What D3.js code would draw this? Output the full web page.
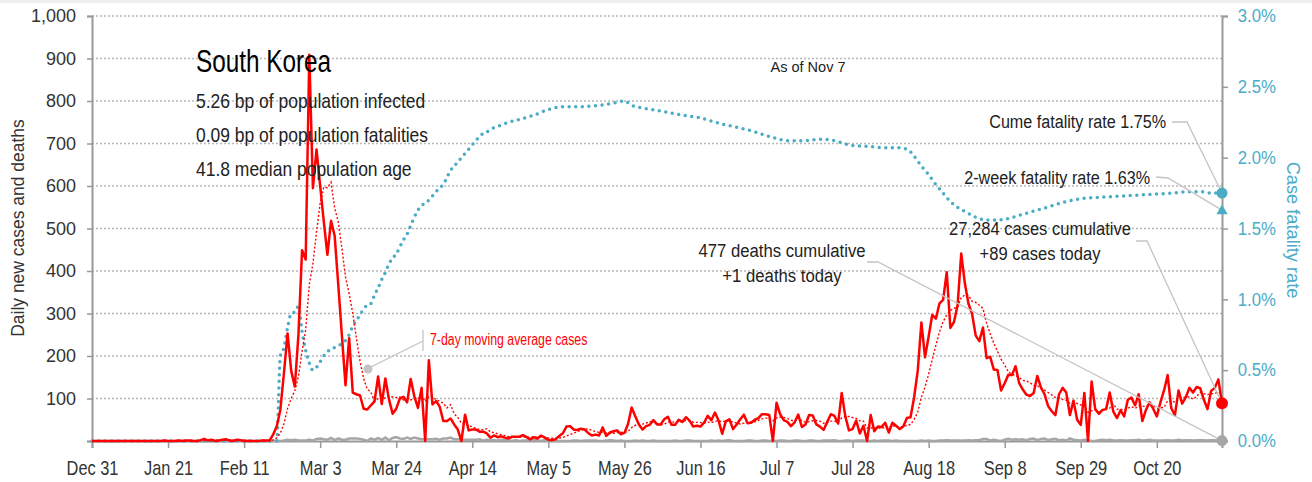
<!DOCTYPE html>
<html>
<head>
<meta charset="utf-8">
<title>South Korea</title>
<style>
  body { margin: 0; background: #fff; }
  svg text { font-family: "Liberation Sans Narrow", "Liberation Sans", Arial, sans-serif; }
</style>
</head>
<body>
<script src="https://d3js.org/d3.v7.min.js"></script>
<div id="chart"></div>
<script>

// daily new cases, one array per month (Dec 31 2019 .. Nov 7 2020)
var casesDec = [0];
var casesJan = [0,0,0,0,0,0,0,0,0,0,0,0,0,0,0,0,0,0,0, 1,0,0,0,1,0,1,1,0,0,2,5];
var casesFeb = [1,3,0,1,3,4,1,0,3,2,0,0,0,0,0,1,1,1,15,34,73,160,253,165,128,250,449,427,909];
var casesMar = [595,686,600,516,438,518,483,367,248,131,242,114,110,107,76,74,84,93,152,87,147,98,64,76,100,104,91,146,105,78,125];
var casesApr = [0,190,86,94,81,47,47,53,39,27,0,62,25,27,27,22,22,18,8,13,9,11,8,6,10,10,10,14,9,4];
var casesMay = [9,6,13,8,3,2,4,12,18,34,35,27,26,29,27,19,13,15,13,32,12,20,23,25,16,19,40,79,58,39,27];
var casesJun = [35,38,49,39,39,51,57,38,38,50,45,56,48,34,36,34,43,59,49,67,48,17,46,51,28,39,51,62,42,43];
var casesJul = [50,54,63,63,61,0,90,63,49,45,35,44,62,33,39,61,60,39,34,26,45,63,59,41,113,58,25,28,48,18,36];
var casesAug = [0,61,23,34,33,43,20,43,36,28,34,54,56,103,166,279,197,246,297,288,324,332,397,266,280,320,441,371,323,299,248];
var casesSep = [235,267,195,198,168,167,119,136,156,155,176,136,121,109,106,113,153,126,110,82,70,61,110,125,114,61,95,50,38,113];
var casesOct = [0,140,75,64,73,75,114,69,54,72,58,97,102,84,110,47,73,91,76,58,91,119,155,77,61,119,88,103,125,114,127];
var casesNov = [124,97,75,118,125,145,89];

// daily deaths (estimates, too small to read exactly)
var deathsDec = [0];
var deathsJan = [0,0,0,0,0,0,0,0,0,0,0,0,0,0,0,0,0,0,0,0,0,0,0,0,0,0,0,0,0,0,0];
var deathsFeb = [0,0,0,0,0,0,0,0,0,0,0,0,0,0,0,0,0,0,0,1,0,1,3,2,3,1,1,1,3];
var deathsMar = [1,5,6,4,3,7,2,6,3,3,6,6,6,5,3,0,6,3,7,3,8,2,7,9,6,5,8,5,8,6,4];
var deathsApr = [4,4,4,5,3,6,6,8,4,4,3,3,3,3,3,4,1,3,2,2,1,3,3,2,0,2,0,1,1,2];
var deathsMay = [2,2,0,2,0,1,0,0,0,0,0,1,1,0,1,1,1,1,0,0,1,2,1,0,1,0,0,0,1,0,1];
var deathsJun = [0,0,1,0,0,0,0,0,1,0,0,1,1,0,0,0,0,0,1,0,1,0,1,2,0,0,0,0,1,1];
var deathsJul = [0,0,1,1,0,1,0,1,1,0,0,1,1,0,0,1,1,0,0,1,1,1,2,0,0,1,1,0,1,1,1];
var deathsAug = [0,0,1,0,1,1,1,0,1,0,0,0,0,0,0,1,0,1,0,0,1,1,2,1,1,1,1,1,2,1,2];
var deathsSep = [2,5,5,1,3,1,0,3,5,3,4,3,4,2,5,6,2,5,6,2,4,5,2,3,1,6,3,2,1,3];
var deathsOct = [2,0,0,2,3,2,3,1,1,2,1,1,2,2,3,1,2,3,1,1,1,1,2,1,1,3,1,2,2,1,2];
var deathsNov = [2,2,1,2,2,1,1];

// cumulative case fatality rate (%); day = days after Dec 31 2019
var rateDay = [0,51,52,53,54,55,56,57,58,59,60,61,62,63,64,65,66,67,68,69,70,71,72,73,74,75,76,77,78,79,80,
  81,82,83,84,85,86,87,88,89,90,91,92,93,94,95,96,97,98,99,100,101,102,103,104,105,106,107,108,109,110,112,115,
  118,122,126,130,135,140,145,147,149,152,157,163,168,172,177,182,187,192,197,201,205,209,214,219,223,225,227,
  229,231,233,235,237,239,241,244,247,250,253,257,261,265,269,273,278,285,292,298,303,306,309,312];
var rateValue = [0,0,0.6,0.66,0.8,0.9,0.91,0.95,0.77,0.64,0.55,0.5,0.52,0.56,0.6,0.63,0.65,0.66,0.67,0.69,0.71,
  0.75,0.81,0.85,0.89,0.93,0.96,0.97,1.03,1.08,1.14,1.19,1.25,1.29,1.32,1.37,1.42,1.46,1.52,1.58,1.63,1.66,1.68,
  1.7,1.73,1.76,1.79,1.81,1.86,1.91,1.94,1.97,2.0,2.03,2.06,2.09,2.12,2.15,2.17,2.18,2.2,2.22,2.25,2.27,2.3,2.34,
  2.36,2.36,2.37,2.39,2.4,2.37,2.35,2.33,2.3,2.28,2.25,2.22,2.19,2.15,2.12,2.12,2.13,2.12,2.09,2.08,2.07,2.07,
  2.06,2.01,1.94,1.88,1.81,1.75,1.69,1.65,1.62,1.58,1.56,1.56,1.57,1.6,1.63,1.66,1.69,1.71,1.72,1.73,1.74,1.75,
  1.76,1.76,1.75,1.75];

var leftTicks = [0,100,200,300,400,500,600,700,800,900,1000];
var rightTicks = [0,0.5,1,1.5,2,2.5,3];

// headline numbers printed on the chart
var totalCases = 27284, totalDeaths = 477, deathsToday = 1;
var cumeRate = 1.75, twoWeekRate = 1.63;
var statLines = ["5.26 bp of population infected", "0.09 bp of population fatalities", "41.8 median population age"];

var width = 1312, height = 482;
var red = "#ff0000", blue = "#4bacc6", grey = "#a6a6a6";

var start = new Date(2019, 11, 31);
function dayDate(d) { return d3.timeDay.offset(start, d); }

var cases = [].concat(casesDec, casesJan, casesFeb, casesMar, casesApr, casesMay, casesJun,
                      casesJul, casesAug, casesSep, casesOct, casesNov);
var deaths = [].concat(deathsDec, deathsJan, deathsFeb, deathsMar, deathsApr, deathsMay, deathsJun,
                       deathsJul, deathsAug, deathsSep, deathsOct, deathsNov);

var daily = cases.map(function(v, i) {
  return { date: dayDate(i), cases: v, deaths: deaths[i],
           avg: d3.mean(cases.slice(Math.max(0, i - 6), i + 1)) };
});
var rate = rateDay.map(function(d, i) { return { date: dayDate(d), value: rateValue[i] }; });
var last = daily[daily.length - 1];

var svg = d3.select("#chart").append("svg")
  .attr("width", width)
  .attr("height", height);

// thin grey band at the very top
svg.append("rect").attr("x", 0).attr("y", 0).attr("width", width).attr("height", 3).attr("fill", "#eeeeee");

var x = d3.scaleTime().domain([start, last.date]).range([92, 1222]);
var y = d3.scaleLinear().domain([0, 1000]).range([441, 16]);
var yR = d3.scaleLinear().domain([0, 3]).range([441, 16]);

// gridlines
svg.append("g").selectAll("line")
  .data(leftTicks.slice(1))
  .enter().append("line")
    .attr("x1", 92).attr("x2", 1222)
    .attr("y1", function(d) { return y(d); })
    .attr("y2", function(d) { return y(d); })
    .attr("stroke", "#b8b8b8")
    .attr("stroke-width", 1.3)
    .attr("stroke-dasharray", "2,2");

// axes
var xTicks = d3.range(0, 312, 21).map(dayDate);
var xAxis = svg.append("g")
  .attr("transform", "translate(0,441)")
  .call(d3.axisBottom(x).tickValues(xTicks).tickFormat(d3.timeFormat("%b %-d")).tickSize(7).tickPadding(10));

var yAxis = svg.append("g")
  .attr("transform", "translate(92,0)")
  .call(d3.axisLeft(y).tickValues(leftTicks).tickSize(5).tickPadding(11)
    .tickFormat(function(d) { return d === 0 ? "" : d3.format(",")(d); }));

var yAxisR = svg.append("g")
  .attr("transform", "translate(1222,0)")
  .call(d3.axisRight(yR).tickValues(rightTicks).tickSize(6).tickPadding(11)
    .tickFormat(function(d) { return d.toFixed(1) + "%"; }));

[xAxis, yAxis, yAxisR].forEach(function(g) {
  g.select(".domain").attr("stroke", "#999").attr("stroke-width", 2);
  g.selectAll(".tick line").attr("stroke", "#999").attr("stroke-width", 1.5);
  g.selectAll(".tick text").style("font-size", "18px").attr("fill", "#333");
});
yAxisR.selectAll(".tick text").attr("fill", blue).attr("transform", "scale(0.93,1)");
xAxis.selectAll(".tick text").style("font-size", "20px").attr("dy", "0.85em").attr("transform", "scale(0.82,1)");

svg.append("text")
  .attr("transform", "translate(24,228) rotate(-90) scale(0.92,1)")
  .attr("text-anchor", "middle")
  .style("font-size", "19px")
  .attr("fill", "#333")
  .text("Daily new cases and deaths");

svg.append("text")
  .attr("transform", "translate(1287,230) rotate(90) scale(0.96,1)")
  .attr("text-anchor", "middle")
  .style("font-size", "19px")
  .attr("fill", blue)
  .text("Case fatality rate");

// deaths
svg.append("path")
  .datum(daily)
  .attr("fill", "none")
  .attr("stroke", grey)
  .attr("stroke-width", 2.5)
  .attr("d", d3.line().x(function(d) { return x(d.date); }).y(function(d) { return y(d.deaths); }));

// fatality rate
svg.append("path")
  .datum(rate)
  .attr("fill", "none")
  .attr("stroke", blue)
  .attr("stroke-width", 3.5)
  .attr("stroke-linecap", "round")
  .attr("stroke-dasharray", "0,6.6")
  .attr("d", d3.line().curve(d3.curveMonotoneX)
    .x(function(d) { return x(d.date); }).y(function(d) { return yR(d.value); }));

// 7-day average
svg.append("path")
  .datum(daily)
  .attr("fill", "none")
  .attr("stroke", red)
  .attr("stroke-width", 1.4)
  .attr("stroke-dasharray", "2,2")
  .attr("d", d3.line().x(function(d) { return x(d.date); }).y(function(d) { return y(d.avg); }));

// daily cases
svg.append("path")
  .datum(daily)
  .attr("fill", "none")
  .attr("stroke", red)
  .attr("stroke-width", 2.5)
  .attr("stroke-linejoin", "round")
  .attr("d", d3.line().x(function(d) { return x(d.date); }).y(function(d) { return y(d.cases); }));

// annotations
var ann = svg.append("g").attr("fill", "none").attr("stroke", "#c4c4c4").attr("stroke-width", 1.3);
var xe = x(last.date);
ann.append("polyline").attr("points", [[1172, 122], [1187, 122], [xe, yR(cumeRate)]].join(" "));
ann.append("polyline").attr("points", [[1156, 177], [1168, 178], [xe, yR(twoWeekRate)]].join(" "));
ann.append("polyline").attr("points", [[1136, 241], [1147, 241], [xe, y(last.cases)]].join(" "));
ann.append("polyline").attr("points", [[867, 262], [878, 262], [xe, y(last.deaths)]].join(" "));
ann.append("line").attr("x1", 423).attr("x2", 423).attr("y1", 330).attr("y2", 351);
ann.append("line").attr("x1", 423).attr("y1", 341).attr("x2", 369).attr("y2", 368);
svg.append("circle").attr("cx", 368).attr("cy", 369).attr("r", 4.5).attr("fill", "#c4c4c4");

svg.append("circle").attr("cx", xe).attr("cy", y(last.deaths)).attr("r", 5.5).attr("fill", grey);
svg.append("circle").attr("cx", xe).attr("cy", y(last.cases)).attr("r", 6).attr("fill", red);
svg.append("circle").attr("cx", xe).attr("cy", yR(cumeRate)).attr("r", 5.5).attr("fill", blue);
svg.append("path")
  .attr("transform", "translate(" + xe + "," + (yR(twoWeekRate) + 1) + ")")
  .attr("d", d3.symbol().type(d3.symbolTriangle).size(55))
  .attr("fill", blue);

// text squeezed horizontally to imitate the condensed face
function label(txt, px, py, size, sx, anchor, color) {
  return svg.append("text")
    .attr("transform", "translate(" + px + "," + py + ") scale(" + sx + ",1)")
    .attr("text-anchor", anchor || "start")
    .style("font-size", size + "px")
    .attr("fill", color || "#222")
    .text(txt);
}

label("South Korea", 196, 72, 32, 0.76, "start", "#000");
statLines.forEach(function(s, i) { label(s, 196, 108 + i * 34, 20, 0.874); });
label("As of Nov 7", 808, 72, 15, 0.97, "middle");
label("Cume fatality rate " + cumeRate.toFixed(2) + "%", 1166, 128, 19, 0.85, "end");
label("2-week fatality rate " + twoWeekRate.toFixed(2) + "%", 1150, 184, 19, 0.85, "end");
label(d3.format(",")(totalCases) + " cases cumulative", 1040, 235, 19, 0.87, "middle");
label("+" + last.cases + " cases today", 1040, 260, 19, 0.87, "middle");
label(totalDeaths + " deaths cumulative", 782, 257, 19, 0.88, "middle");
label("+" + deathsToday + " deaths today", 782, 282, 19, 0.88, "middle");
label("7-day moving average cases", 430, 345, 16, 0.77, "start", red);

</script>
</body>
</html>
